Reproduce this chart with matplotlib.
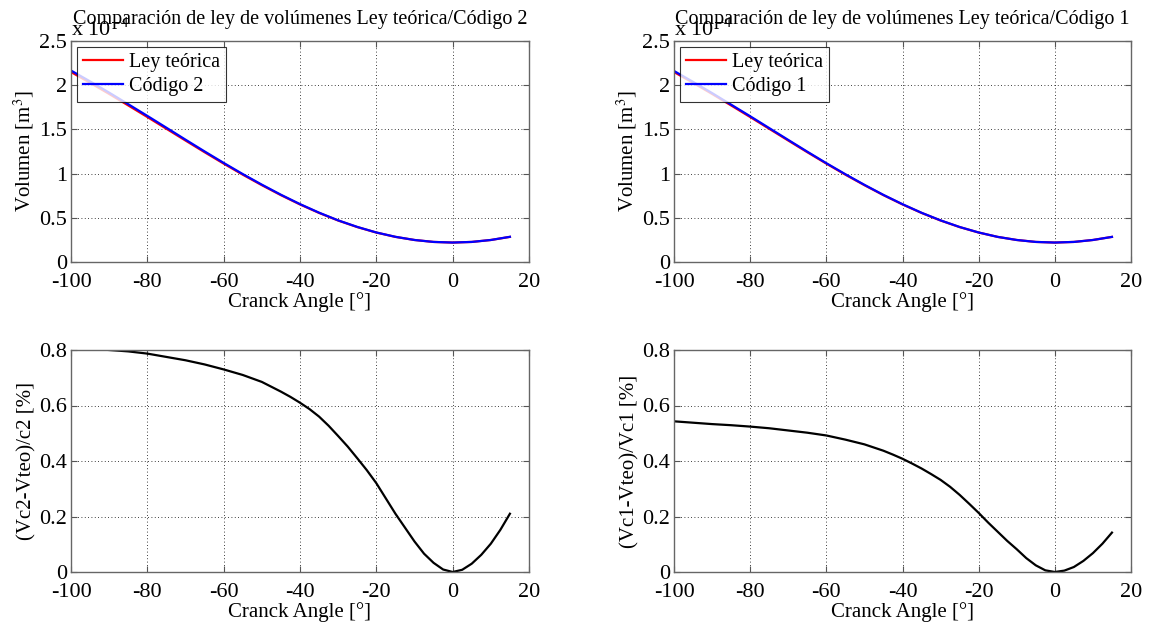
import numpy as np
import matplotlib
matplotlib.use("Agg")
import matplotlib.pyplot as plt
from matplotlib.ticker import FormatStrFormatter

plt.rcParams["font.family"] = ["Liberation Serif", "DejaVu Serif"]
plt.rcParams["mathtext.fontset"] = "stix"
plt.rcParams["axes.unicode_minus"] = False

# crank angle [deg]
angle = [-100, -95, -90, -85, -80, -75, -70, -65, -60, -55, -50, -45,
         -40, -35, -30, -25, -20, -15, -10, -5, 0, 5, 10, 15]

# volumes [x1e-4 m^3]
v_teo = [2.149, 2.027, 1.901, 1.771, 1.640, 1.507, 1.374, 1.242, 1.113, 0.988,
         0.869, 0.756, 0.651, 0.555, 0.469, 0.395, 0.333, 0.284, 0.249, 0.227,
         0.220, 0.227, 0.249, 0.284]
v_code2 = [2.166, 2.043, 1.916, 1.785, 1.653, 1.519, 1.384, 1.251, 1.121, 0.995,
           0.875, 0.761, 0.655, 0.558, 0.471, 0.397, 0.334, 0.285, 0.249, 0.227,
           0.220, 0.227, 0.249, 0.285]
v_code1 = [2.161, 2.038, 1.911, 1.780, 1.649, 1.515, 1.381, 1.248, 1.118, 0.993,
           0.873, 0.759, 0.654, 0.557, 0.471, 0.396, 0.334, 0.284, 0.249, 0.227,
           0.220, 0.227, 0.249, 0.284]

# relative error [%]
angle_err = [-100, -95, -90, -85, -80, -75, -70, -65, -60, -55, -50,
             -45, -42.5, -40, -37.5, -35, -32.5, -30, -27.5, -25, -22.5,
             -20, -17.5, -15, -12.5, -10, -7.5, -5, -2.5, 0, 2.5, 5, 7.5,
             10, 12.5, 15]
err_code2 = [0.810, 0.805, 0.800, 0.795, 0.787, 0.775, 0.763, 0.748, 0.730, 0.710, 0.685,
             0.650, 0.631, 0.610, 0.587, 0.560, 0.527, 0.490, 0.452, 0.410, 0.367,
             0.320, 0.265, 0.210, 0.160, 0.110, 0.066, 0.033, 0.009, 0.000, 0.008,
             0.030, 0.062, 0.102, 0.152, 0.210]
err_code1 = [0.543, 0.538, 0.533, 0.529, 0.524, 0.518, 0.510, 0.502, 0.492, 0.477, 0.460,
             0.437, 0.423, 0.408, 0.391, 0.373, 0.353, 0.332, 0.307, 0.278, 0.246,
             0.213, 0.178, 0.145, 0.112, 0.082, 0.050, 0.024, 0.006, 0.000, 0.005,
             0.018, 0.040, 0.068, 0.102, 0.142]

W, H = 1149, 623
fig = plt.figure(figsize=(W / 100, H / 100), dpi=100)

fs_tick = 16
fs_lab = 15
fs_title = 14.5


def px_axes(x0, y0, x1, y1):
    return fig.add_axes([x0 / W, 1 - y1 / H, (x1 - x0) / W, (y1 - y0) / H])


def style(ax, ylim, yticks):
    ax.set_xlim(-100, 20)
    ax.set_xticks(np.arange(-100, 21, 20))
    ax.set_ylim(*ylim)
    ax.set_yticks(yticks)
    ax.yaxis.set_major_formatter(FormatStrFormatter("%g"))
    ax.grid(True, color="black", linestyle=(0, (1, 3)), linewidth=0.6)
    ax.tick_params(direction="in", top=True, right=True, labelsize=fs_tick,
                   length=4, color="#555555")
    ax.tick_params(axis="x", pad=8)
    ax.tick_params(axis="y", pad=3)
    for s in ax.spines.values():
        s.set_color("#666666")
        s.set_linewidth(1.0)
    ax.set_xlabel("Cranck Angle [°]", fontsize=fs_lab, labelpad=0)


tops = [
    (px_axes(71, 41, 529, 262), v_code2, "Código 2",
     "Comparación de ley de volúmenes Ley teórica/Código 2"),
    (px_axes(674, 41, 1131, 262), v_code1, "Código 1",
     "Comparación de ley de volúmenes Ley teórica/Código 1"),
]
for ax, vc, name, title in tops:
    ax.plot(angle, v_teo, color="red", linewidth=1.6, label="Ley teórica")
    ax.plot(angle, vc, color="blue", linewidth=1.6, label=name)
    style(ax, (0, 2.5), [0, 0.5, 1, 1.5, 2, 2.5])
    ax.set_ylabel("Volumen [m$^3$]", fontsize=fs_lab, labelpad=2)
    ax.set_title(title, fontsize=fs_title, pad=12)
    ax.text(0.0, 1.0, "x 10$^{-4}$", transform=ax.transAxes, fontsize=fs_tick,
            ha="left", va="bottom", zorder=0)
    leg = ax.legend(loc="upper left", fontsize=14.5, frameon=True, fancybox=False,
                    edgecolor="black", borderaxespad=0.3, handlelength=2.0,
                    labelspacing=0.25, borderpad=0.3, handletextpad=0.3)
    leg.get_frame().set_linewidth(0.8)

bottoms = [
    (px_axes(71, 350, 529, 572), err_code2, "(Vc2-Vteo)/c2 [%]"),
    (px_axes(674, 350, 1131, 572), err_code1, "(Vc1-Vteo)/Vc1 [%]"),
]
for ax, err, ylab in bottoms:
    ax.plot(angle_err, err, color="black", linewidth=1.6)
    style(ax, (0, 0.8), [0, 0.2, 0.4, 0.6, 0.8])
    ax.set_ylabel(ylab, fontsize=fs_lab, labelpad=2)

fig.savefig("out.png", dpi=100)
